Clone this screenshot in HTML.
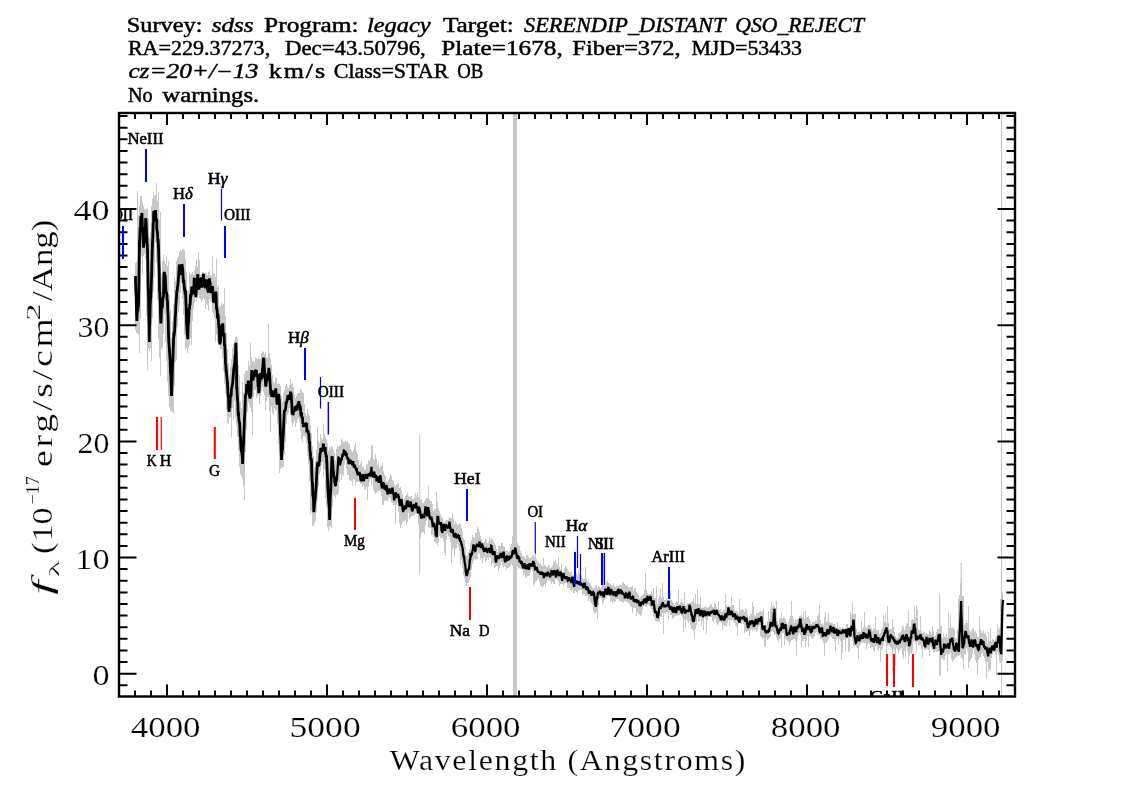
<!DOCTYPE html><html><head><meta charset="utf-8"><style>html,body{margin:0;padding:0;background:#fff;width:1134px;height:810px;overflow:hidden}svg{display:block;will-change:transform}</style></head><body><svg width="1134" height="810" viewBox="0 0 1134 810"><rect width="1134" height="810" fill="#fff"/><g font-family="Liberation Serif" fill="#000" stroke="#000" stroke-width="0.45"><text x="126.68" y="31.60" font-size="20" textLength="75.91" lengthAdjust="spacingAndGlyphs" >Survey:</text><text x="211.70" y="31.60" font-size="20" textLength="41.95" lengthAdjust="spacingAndGlyphs" font-style="italic">sdss</text><text x="264.10" y="31.60" font-size="20" textLength="94.42" lengthAdjust="spacingAndGlyphs" >Program:</text><text x="366.98" y="31.60" font-size="20" textLength="63.73" lengthAdjust="spacingAndGlyphs" font-style="italic">legacy</text><text x="442.90" y="31.60" font-size="20" textLength="70.97" lengthAdjust="spacingAndGlyphs" >Target:</text><text x="524.00" y="31.60" font-size="20" textLength="201.29" lengthAdjust="spacingAndGlyphs" font-style="italic">SERENDIP_DISTANT</text><text x="735.32" y="31.60" font-size="20" textLength="128.68" lengthAdjust="spacingAndGlyphs" font-style="italic">QSO_REJECT</text><text x="127.90" y="54.60" font-size="20" textLength="142.27" lengthAdjust="spacingAndGlyphs" >RA=229.37273,</text><text x="285.00" y="54.60" font-size="20" textLength="140.75" lengthAdjust="spacingAndGlyphs" >Dec=43.50796,</text><text x="441.20" y="54.60" font-size="20" textLength="121.52" lengthAdjust="spacingAndGlyphs" >Plate=1678,</text><text x="572.30" y="54.60" font-size="20" textLength="108.31" lengthAdjust="spacingAndGlyphs" >Fiber=372,</text><text x="691.40" y="54.60" font-size="20" textLength="110.62" lengthAdjust="spacingAndGlyphs" >MJD=53433</text><text x="128.40" y="78.40" font-size="20" textLength="129.94" lengthAdjust="spacingAndGlyphs" font-style="italic">cz=20+/&#8722;13</text><text transform="translate(268.70 78.40) scale(1.300 1)" x="-0.00" y="0" font-size="20" textLength="43.42" lengthAdjust="spacing" >km/s</text><text x="333.70" y="78.40" font-size="20" textLength="114.75" lengthAdjust="spacingAndGlyphs" >Class=STAR</text><text x="457.20" y="78.40" font-size="20" textLength="26.05" lengthAdjust="spacingAndGlyphs" >OB</text><text x="127.90" y="102.20" font-size="20" textLength="24.76" lengthAdjust="spacingAndGlyphs" >No</text><text x="162.30" y="102.20" font-size="20" textLength="96.94" lengthAdjust="spacingAndGlyphs" >warnings.</text></g><defs><clipPath id="c"><rect x="119.0" y="113.0" width="896.0" height="583.5"/></clipPath></defs><g clip-path="url(#c)"><rect x="513" y="113.0" width="4" height="583.5" fill="#c8c8c8"/><rect x="1001" y="113.0" width="1.1" height="583.5" fill="#c8c8c8"/><rect x="419.1" y="435" width="1.1" height="139" fill="#c8c8c8"/><rect x="960.6" y="563" width="1.2" height="95" fill="#c8c8c8"/><rect x="939" y="594" width="1.2" height="75" fill="#c8c8c8"/><path d="M135.5 263V330M136.5 262V333M137.5 191V333M138.5 215V335M139.5 206V353M140.5 196V319M141.5 196V256M142.5 203V274M143.5 206V256M144.5 209V254M145.5 210V259M146.5 208V316M147.5 209V370M148.5 218V348M149.5 238V351M150.5 232V348M151.5 206V361M152.5 199V318M153.5 192V292M154.5 196V277M155.5 195V243M156.5 183V263M157.5 201V300M158.5 192V339M159.5 220V358M160.5 212V376M161.5 273V349M162.5 261V347M163.5 255V334M164.5 261V314M165.5 264V342M166.5 256V361M167.5 266V382M168.5 261V396M169.5 295V407M170.5 310V411M171.5 337V411M172.5 321V412M173.5 304V414M174.5 277V386M175.5 281V362M176.5 261V360M177.5 258V327M178.5 256V312M179.5 252V305M180.5 250V293M181.5 251V283M182.5 249V299M183.5 249V315M184.5 250V335M185.5 259V349M186.5 272V348M187.5 291V353M188.5 290V348M189.5 272V345M190.5 274V338M191.5 274V346M192.5 272V321M193.5 275V309M194.5 270V302M195.5 266V298M196.5 259V301M197.5 267V298M198.5 252V295M199.5 260V298M200.5 275V299M201.5 274V302M202.5 272V300M203.5 272V298M204.5 273V299M205.5 273V309M206.5 274V304M207.5 275V305M208.5 272V311M209.5 270V299M210.5 275V301M211.5 276V302M212.5 256V312M213.5 273V314M214.5 274V318M215.5 277V342M216.5 259V335M217.5 287V341M218.5 285V343M219.5 305V345M220.5 307V349M221.5 303V350M222.5 305V358M223.5 304V371M224.5 288V384M225.5 316V394M226.5 333V409M227.5 349V423M228.5 363V424M229.5 375V418M230.5 367V417M231.5 359V437M232.5 348V408M233.5 344V419M234.5 342V401M235.5 337V417M236.5 337V425M237.5 338V437M238.5 365V451M239.5 375V467M240.5 402V474M241.5 408V476M242.5 382V479M243.5 393V486M244.5 374V500M245.5 371V452M246.5 371V430M247.5 370V412M248.5 361V402M249.5 366V405M250.5 343V408M251.5 357V412M252.5 362V435M253.5 361V397M254.5 362V390M255.5 357V390M256.5 358V398M257.5 359V396M258.5 357V395M259.5 359V404M260.5 359V396M261.5 353V391M262.5 351V387M263.5 352V391M264.5 354V395M265.5 352V410M266.5 357V401M267.5 358V397M268.5 324V398M269.5 353V411M270.5 358V432M271.5 365V406M272.5 375V413M273.5 382V415M274.5 383V408M275.5 377V411M276.5 378V410M277.5 384V424M278.5 383V444M279.5 384V473M280.5 386V469M281.5 396V468M282.5 402V467M283.5 393V467M284.5 390V454M285.5 386V442M286.5 384V424M287.5 387V415M288.5 388V413M289.5 385V408M290.5 379V415M291.5 384V422M292.5 383V427M293.5 387V423M294.5 395V421M295.5 398V427M296.5 396V423M297.5 393V420M298.5 393V418M299.5 393V422M300.5 390V431M301.5 389V439M302.5 392V442M303.5 393V436M304.5 404V436M305.5 413V437M306.5 416V443M307.5 409V456M308.5 414V464M309.5 416V481M310.5 425V514M311.5 433V511M312.5 446V526M313.5 456V526M314.5 467V523M315.5 461V521M316.5 450V512M317.5 427V500M318.5 441V486M319.5 443V474M320.5 434V471M321.5 438V465M322.5 440V462M323.5 425V477M324.5 434V469M325.5 437V498M326.5 439V507M327.5 443V527M328.5 451V531M329.5 447V527M330.5 449V526M331.5 446V528M332.5 447V507M333.5 450V495M334.5 453V496M335.5 460V498M336.5 449V495M337.5 446V495M338.5 447V493M339.5 446V482M340.5 445V474M341.5 439V480M342.5 441V474M343.5 442V476M344.5 442V465M345.5 441V460M346.5 442V468M347.5 441V475M348.5 443V475M349.5 444V480M350.5 449V481M351.5 451V481M352.5 452V486M353.5 450V479M354.5 446V480M355.5 443V485M356.5 451V482M357.5 454V482M358.5 460V482M359.5 465V482M360.5 463V484M361.5 461V484M362.5 467V487M363.5 467V486M364.5 470V489M365.5 469V490M366.5 465V487M367.5 464V500M368.5 460V487M369.5 461V482M370.5 458V479M371.5 445V485M372.5 446V478M373.5 459V489M374.5 460V492M375.5 454V494M376.5 459V493M377.5 465V492M378.5 462V491M379.5 468V491M380.5 466V492M381.5 466V496M382.5 463V505M383.5 471V505M384.5 475V501M385.5 476V500M386.5 481V501M387.5 482V501M388.5 480V498M389.5 478V497M390.5 474V499M391.5 476V502M392.5 480V503M393.5 481V505M394.5 484V505M395.5 486V524M396.5 484V505M397.5 484V503M398.5 483V512M399.5 488V523M400.5 487V528M401.5 490V525M402.5 494V523M403.5 500V521M404.5 498V521M405.5 496V520M406.5 495V525M407.5 493V522M408.5 496V513M409.5 497V519M410.5 496V517M411.5 496V517M412.5 499V516M413.5 499V515M414.5 497V516M415.5 493V514M416.5 495V513M417.5 492V513M418.5 497V524M419.5 498V538M420.5 500V538M421.5 499V533M422.5 503V532M423.5 503V532M424.5 501V534M425.5 499V525M426.5 498V521M427.5 498V518M428.5 486V527M429.5 500V528M430.5 501V528M431.5 501V535M432.5 504V535M433.5 511V537M434.5 509V542M435.5 509V542M436.5 492V543M437.5 502V546M438.5 508V543M439.5 511V536M440.5 514V538M441.5 517V538M442.5 518V538M443.5 522V541M444.5 522V553M445.5 521V556M446.5 520V540M447.5 520V534M448.5 519V536M449.5 517V537M450.5 518V542M451.5 518V563M452.5 513V550M453.5 519V548M454.5 524V557M455.5 521V549M456.5 523V548M457.5 525V544M458.5 525V547M459.5 523V551M460.5 524V564M461.5 528V560M462.5 531V568M463.5 538V575M464.5 540V579M465.5 547V582M466.5 556V586M467.5 554V583M468.5 552V583M469.5 549V580M470.5 543V577M471.5 540V570M472.5 535V564M473.5 537V561M474.5 538V559M475.5 533V560M476.5 533V559M477.5 527V559M478.5 529V553M479.5 532V554M480.5 536V560M481.5 539V558M482.5 542V563M483.5 545V559M484.5 542V557M485.5 539V562M486.5 540V560M487.5 543V558M488.5 542V560M489.5 537V557M490.5 540V558M491.5 538V566M492.5 539V563M493.5 541V564M494.5 543V568M495.5 545V567M496.5 549V566M497.5 552V566M498.5 546V571M499.5 546V568M500.5 546V565M501.5 543V562M502.5 543V565M503.5 546V567M504.5 547V566M505.5 551V567M506.5 550V570M507.5 551V568M508.5 552V568M509.5 551V567M510.5 547V566M511.5 544V564M512.5 536V566M513.5 544V564M514.5 545V559M515.5 544V559M516.5 544V562M517.5 543V567M518.5 545V569M519.5 546V568M520.5 551V569M521.5 553V569M522.5 556V570M523.5 556V575M524.5 557V573M525.5 559V578M526.5 555V577M527.5 555V576M528.5 557V576M529.5 558V575M530.5 558V572M531.5 557V569M532.5 556V571M533.5 554V586M534.5 557V584M535.5 553V582M536.5 559V581M537.5 561V580M538.5 562V579M539.5 564V582M540.5 562V586M541.5 565V586M542.5 566V588M543.5 558V586M544.5 565V584M545.5 566V587M546.5 567V583M547.5 567V580M548.5 565V580M549.5 566V580M550.5 568V582M551.5 567V584M552.5 565V582M553.5 561V584M554.5 562V584M555.5 560V579M556.5 563V579M557.5 565V580M558.5 557V582M559.5 567V586M560.5 569V584M561.5 564V584M562.5 572V584M563.5 573V586M564.5 568V584M565.5 566V583M566.5 567V583M567.5 569V588M568.5 571V588M569.5 572V588M570.5 572V590M571.5 571V592M572.5 575V590M573.5 575V593M574.5 574V593M575.5 573V591M576.5 573V592M577.5 575V593M578.5 571V591M579.5 574V590M580.5 577V590M581.5 576V590M582.5 578V595M583.5 579V594M584.5 579V594M585.5 567V596M586.5 579V596M587.5 581V596M588.5 581V601M589.5 583V599M590.5 583V602M591.5 586V603M592.5 588V605M593.5 588V611M594.5 588V614M595.5 585V613M596.5 586V612M597.5 588V619M598.5 586V606M599.5 587V599M600.5 588V598M601.5 587V600M602.5 583V604M603.5 585V602M604.5 586V600M605.5 585V598M606.5 582V599M607.5 581V596M608.5 583V596M609.5 583V597M610.5 584V602M611.5 585V601M612.5 586V603M613.5 583V601M614.5 586V602M615.5 587V601M616.5 585V599M617.5 586V599M618.5 586V599M619.5 585V601M620.5 585V601M621.5 585V602M622.5 583V602M623.5 582V603M624.5 584V601M625.5 585V602M626.5 586V601M627.5 585V603M628.5 588V603M629.5 587V604M630.5 587V606M631.5 587V607M632.5 586V613M633.5 591V608M634.5 588V608M635.5 588V608M636.5 592V616M637.5 593V612M638.5 595V614M639.5 598V614M640.5 597V616M641.5 596V615M642.5 595V610M643.5 594V606M644.5 590V606M645.5 573V606M646.5 590V607M647.5 593V605M648.5 594V605M649.5 594V606M650.5 594V607M651.5 591V609M652.5 594V612M653.5 588V616M654.5 598V618M655.5 598V621M656.5 586V621M657.5 604V622M658.5 599V622M659.5 596V621M660.5 589V617M661.5 598V617M662.5 583V613M663.5 597V634M664.5 600V613M665.5 600V614M666.5 598V612M667.5 600V612M668.5 600V619M669.5 600V612M670.5 591V615M671.5 600V615M672.5 602V619M673.5 603V618M674.5 605V617M675.5 603V616M676.5 601V615M677.5 602V616M678.5 589V615M679.5 604V615M680.5 602V614M681.5 599V616M682.5 602V617M683.5 604V632M684.5 592V620M685.5 606V628M686.5 605V619M687.5 603V621M688.5 603V623M689.5 603V621M690.5 603V625M691.5 602V629M692.5 601V629M693.5 598V631M694.5 603V638M695.5 594V629M696.5 604V625M697.5 589V617M698.5 604V622M699.5 604V621M700.5 597V618M701.5 608V626M702.5 607V621M703.5 608V630M704.5 607V618M705.5 607V619M706.5 607V634M707.5 608V620M708.5 607V617M709.5 606V617M710.5 604V617M711.5 604V617M712.5 607V621M713.5 607V622M714.5 602V619M715.5 604V619M716.5 607V623M717.5 609V625M718.5 601V624M719.5 610V622M720.5 609V622M721.5 612V623M722.5 611V630M723.5 610V625M724.5 610V626M725.5 594V625M726.5 605V627M727.5 607V623M728.5 605V620M729.5 607V626M730.5 606V620M731.5 597V621M732.5 605V620M733.5 605V621M734.5 609V623M735.5 611V625M736.5 611V627M737.5 611V636M738.5 613V624M739.5 599V623M740.5 610V624M741.5 610V624M742.5 609V622M743.5 610V624M744.5 612V633M745.5 608V631M746.5 609V632M747.5 614V631M748.5 618V631M749.5 616V636M750.5 614V630M751.5 614V629M752.5 602V631M753.5 606V629M754.5 615V630M755.5 616V630M756.5 613V632M757.5 613V631M758.5 613V627M759.5 612V626M760.5 611V636M761.5 612V637M762.5 611V639M763.5 609V638M764.5 625V647M765.5 625V646M766.5 626V638M767.5 621V640M768.5 611V639M769.5 619V638M770.5 609V636M771.5 602V632M772.5 607V631M773.5 605V632M774.5 606V635M775.5 608V634M776.5 601V638M777.5 621V640M778.5 624V642M779.5 619V639M780.5 618V638M781.5 612V648M782.5 618V633M783.5 617V633M784.5 618V645M785.5 619V638M786.5 622V640M787.5 625V641M788.5 622V641M789.5 619V645M790.5 616V642M791.5 601V640M792.5 616V640M793.5 620V639M794.5 623V639M795.5 620V641M796.5 620V656M797.5 619V639M798.5 618V635M799.5 616V633M800.5 616V635M801.5 615V647M802.5 617V641M803.5 612V641M804.5 619V639M805.5 611V647M806.5 618V641M807.5 617V636M808.5 616V647M809.5 619V636M810.5 621V637M811.5 624V638M812.5 622V639M813.5 622V638M814.5 622V636M815.5 620V633M816.5 621V632M817.5 616V634M818.5 614V635M819.5 605V635M820.5 620V639M821.5 624V639M822.5 623V640M823.5 625V643M824.5 617V656M825.5 612V643M826.5 622V643M827.5 621V641M828.5 613V639M829.5 622V637M830.5 623V635M831.5 623V637M832.5 623V639M833.5 624V639M834.5 624V641M835.5 626V651M836.5 628V639M837.5 622V638M838.5 629V645M839.5 627V639M840.5 627V641M841.5 629V660M842.5 627V652M843.5 628V640M844.5 629V639M845.5 629V651M846.5 624V639M847.5 624V637M848.5 627V652M849.5 627V651M850.5 612V638M851.5 615V637M852.5 602V641M853.5 614V646M854.5 614V646M855.5 614V645M856.5 629V647M857.5 632V648M858.5 632V659M859.5 632V646M860.5 632V644M861.5 621V643M862.5 629V642M863.5 627V643M864.5 612V643M865.5 627V643M866.5 628V649M867.5 626V645M868.5 625V643M869.5 625V644M870.5 626V648M871.5 628V647M872.5 631V647M873.5 629V650M874.5 628V652M875.5 617V646M876.5 630V646M877.5 630V649M878.5 630V651M879.5 634V648M880.5 633V662M881.5 629V650M882.5 627V649M883.5 615V645M884.5 622V641M885.5 613V643M886.5 623V658M887.5 606V646M888.5 623V645M889.5 629V646M890.5 629V647M891.5 629V648M892.5 619V671M893.5 627V649M894.5 632V651M895.5 636V666M896.5 638V648M897.5 638V650M898.5 634V653M899.5 633V650M900.5 632V649M901.5 630V648M902.5 626V655M903.5 627V659M904.5 630V651M905.5 627V658M906.5 623V647M907.5 624V651M908.5 610V664M909.5 627V656M910.5 626V653M911.5 620V654M912.5 619V651M913.5 620V642M914.5 606V641M915.5 617V644M916.5 605V652M917.5 609V642M918.5 629V646M919.5 630V645M920.5 616V645M921.5 631V649M922.5 633V658M923.5 632V647M924.5 632V650M925.5 635V650M926.5 633V649M927.5 634V649M928.5 634V650M929.5 630V656M930.5 632V647M931.5 633V649M932.5 627V650M933.5 631V653M934.5 636V652M935.5 635V651M936.5 632V652M937.5 629V652M938.5 629V651M939.5 625V676M940.5 626V675M941.5 626V659M942.5 638V658M943.5 634V660M944.5 637V660M945.5 637V656M946.5 634V654M947.5 638V671M948.5 612V654M949.5 628V654M950.5 615V653M951.5 628V659M952.5 627V662M953.5 628V660M954.5 630V659M955.5 638V657M956.5 638V657M957.5 630V656M958.5 599V656M959.5 595V655M960.5 583V654M961.5 578V658M962.5 596V659M963.5 596V669M964.5 625V654M965.5 623V655M966.5 620V648M967.5 623V651M968.5 606V668M969.5 630V662M970.5 632V660M971.5 631V658M972.5 629V654M973.5 628V649M974.5 632V654M975.5 631V660M976.5 633V663M977.5 637V675M978.5 637V660M979.5 616V658M980.5 629V657M981.5 631V654M982.5 633V653M983.5 630V656M984.5 634V658M985.5 633V662M986.5 636V679M987.5 643V662M988.5 632V672M989.5 641V669M990.5 628V671M991.5 642V658M992.5 639V655M993.5 640V653M994.5 641V652M995.5 638V654M996.5 636V676M997.5 624V652M998.5 630V655M999.5 628V661M1000.5 599V663M1001.5 595V672M1002.5 592V661" stroke="#c8c8c8" stroke-width="1" fill="none" shape-rendering="crispEdges"/><path d="M135.50 276.0 135.50 280.8 135.83 290.7 136.17 297.6 136.50 311.8 136.83 320.9 137.17 313.2 137.50 310.6 137.83 310.4 138.17 306.3 138.50 300.0 138.50 306.5 138.83 287.7 139.17 264.6 139.50 240.0 139.50 249.0 139.83 236.6 140.17 227.5 140.50 228.2 140.83 216.4 141.17 217.7 141.50 217.1 141.83 214.5 141.90 213.0 142.17 220.2 142.50 231.8 142.83 227.0 143.17 238.9 143.50 245.0 143.50 247.7 143.83 240.3 144.17 236.2 144.50 243.0 144.83 242.2 145.17 229.1 145.50 226.0 145.60 219.0 145.83 218.4 146.17 223.9 146.50 232.1 146.83 236.5 147.17 244.5 147.50 250.0 147.50 248.8 147.83 269.3 148.17 288.5 148.50 295.1 148.83 315.5 149.17 327.6 149.30 342.0 149.50 326.5 149.83 323.1 150.17 307.3 150.50 299.0 150.83 297.8 151.17 288.3 151.50 278.3 151.83 264.2 152.17 252.1 152.50 241.9 152.83 236.8 153.17 223.6 153.50 221.4 153.70 211.0 153.83 211.4 154.17 215.3 154.50 212.8 154.83 212.1 155.17 214.5 155.50 210.1 155.83 217.3 156.17 219.6 156.50 221.0 156.70 219.0 156.83 229.7 157.17 230.8 157.50 233.5 157.83 240.5 158.17 240.5 158.50 250.0 158.50 245.4 158.83 259.7 159.17 269.4 159.50 288.0 159.50 291.4 159.83 292.5 160.17 301.5 160.50 315.1 160.83 323.4 161.17 319.7 161.50 308.1 161.83 306.8 162.17 308.4 162.50 302.9 162.83 298.5 163.17 298.0 163.50 295.9 163.83 277.7 164.17 273.1 164.30 272.0 164.50 274.1 164.83 274.9 165.17 275.8 165.50 282.9 165.83 289.6 166.17 292.6 166.50 292.8 166.83 294.0 167.17 300.4 167.50 301.3 167.83 312.7 168.17 317.5 168.50 334.4 168.83 342.1 169.17 346.3 169.50 351.4 169.83 356.5 170.17 360.9 170.50 372.3 170.83 376.1 171.17 385.8 171.50 396.0 171.50 394.6 171.83 389.8 172.17 376.6 172.50 366.2 172.83 360.8 173.17 350.0 173.50 341.1 173.83 334.4 174.17 334.6 174.50 332.6 174.83 327.3 175.17 317.9 175.50 314.5 175.83 306.8 176.17 300.1 176.50 297.5 176.83 290.4 177.17 291.7 177.50 286.7 177.83 285.8 178.17 281.4 178.50 277.3 178.83 272.6 179.17 266.6 179.50 264.5 179.83 268.2 180.17 273.7 180.50 273.7 180.83 274.9 181.17 269.0 181.50 270.0 181.83 264.4 182.17 265.2 182.50 268.3 182.83 270.5 183.17 277.4 183.50 283.1 183.83 279.8 184.17 286.7 184.50 289.3 184.83 289.2 185.17 294.3 185.50 290.2 185.83 299.5 186.17 307.5 186.50 321.6 186.83 326.9 187.17 333.3 187.50 336.2 187.80 339.0 187.83 338.8 188.17 325.0 188.50 322.0 188.83 316.1 189.17 308.4 189.50 309.4 189.83 304.2 190.17 305.3 190.50 296.3 190.83 296.5 191.17 295.6 191.50 291.1 191.83 286.7 192.17 289.3 192.50 291.8 192.83 292.5 193.17 294.3 193.50 286.2 193.83 289.3 194.17 278.7 194.50 278.4 194.83 281.1 195.17 289.8 195.50 290.8 195.83 297.1 196.17 292.0 196.50 287.0 196.83 279.9 197.17 281.7 197.40 283.0 197.50 276.5 197.83 274.3 198.17 285.4 198.50 279.6 198.83 289.6 199.17 287.3 199.50 284.6 199.83 279.5 200.17 279.1 200.50 283.2 200.83 280.3 201.17 277.5 201.50 283.2 201.83 287.7 202.17 284.5 202.50 277.5 202.83 281.1 203.17 277.8 203.50 273.8 203.83 282.8 204.17 285.9 204.50 279.7 204.83 286.4 205.17 287.0 205.50 286.9 205.83 285.6 206.17 285.0 206.50 279.3 206.83 285.6 207.17 282.8 207.50 290.1 207.83 289.1 208.17 292.7 208.50 287.7 208.83 291.4 209.17 283.1 209.50 278.3 209.83 284.9 210.17 281.6 210.50 292.8 210.83 292.3 211.17 291.0 211.50 288.3 211.83 291.1 212.17 290.4 212.50 286.0 212.83 291.0 213.17 295.4 213.50 301.4 213.83 301.5 214.17 299.9 214.50 298.5 214.83 301.4 215.17 296.5 215.50 293.2 215.83 291.7 216.17 297.1 216.50 308.2 216.83 308.3 217.17 311.1 217.50 318.4 217.83 314.0 218.17 315.7 218.50 322.1 218.83 327.0 219.17 329.5 219.50 339.7 219.83 344.3 220.17 340.8 220.50 340.9 220.83 335.6 221.17 331.3 221.50 327.0 221.83 324.6 222.17 324.9 222.50 323.9 222.83 324.5 223.17 331.5 223.50 336.3 223.83 334.4 224.17 334.4 224.50 346.1 224.83 344.7 225.17 352.9 225.50 363.5 225.83 365.4 226.17 372.5 226.30 369.0 226.50 373.7 226.83 377.2 227.17 380.4 227.50 382.7 227.83 390.3 228.17 396.3 228.50 397.5 228.83 409.3 229.17 411.8 229.30 408.0 229.50 407.0 229.83 408.1 230.17 401.2 230.50 394.8 230.83 396.1 231.17 395.6 231.50 388.8 231.83 387.9 232.17 385.1 232.50 384.5 232.83 380.9 233.17 376.7 233.50 372.3 233.70 370.0 233.83 368.8 234.17 366.5 234.50 364.9 234.83 361.3 235.17 355.5 235.50 355.3 235.83 342.9 236.17 350.8 236.50 366.9 236.70 389.0 236.83 387.1 237.17 394.2 237.50 399.1 237.83 403.6 238.17 413.9 238.50 413.8 238.83 418.5 239.17 422.2 239.50 421.8 239.83 426.6 240.17 436.8 240.50 435.9 240.83 445.3 241.17 449.8 241.50 451.6 241.83 452.0 242.17 455.7 242.50 458.9 242.60 464.0 242.83 459.1 243.17 448.8 243.50 444.5 243.83 435.0 244.17 427.7 244.40 421.0 244.50 418.2 244.83 412.8 245.17 403.8 245.50 395.5 245.83 394.1 246.17 395.0 246.50 389.1 246.70 384.0 246.83 386.9 247.17 391.4 247.50 389.7 247.83 386.2 248.17 381.8 248.50 381.8 248.83 385.8 249.17 390.3 249.50 396.0 249.83 397.3 250.17 397.3 250.50 393.0 250.83 396.6 251.17 387.8 251.50 374.4 251.83 370.1 251.90 377.0 252.17 373.7 252.50 379.6 252.83 379.4 253.17 380.2 253.50 375.1 253.83 375.7 254.17 377.5 254.50 371.4 254.83 372.3 255.17 372.0 255.50 370.0 255.83 373.9 256.17 370.2 256.30 370.0 256.50 372.6 256.83 373.7 257.17 376.3 257.50 374.1 257.83 381.6 258.17 387.1 258.50 386.0 258.50 385.3 258.83 393.1 259.17 389.5 259.50 383.0 259.83 380.9 260.17 380.8 260.50 373.2 260.83 373.8 261.17 374.3 261.50 378.4 261.83 379.0 262.17 375.4 262.50 368.6 262.83 367.9 263.17 361.8 263.50 357.7 263.70 365.0 263.83 357.8 264.17 364.4 264.50 370.8 264.83 377.3 265.17 376.5 265.50 383.6 265.83 386.7 266.17 383.2 266.50 380.4 266.83 379.5 267.17 379.4 267.50 373.7 267.83 377.8 268.17 377.4 268.50 374.5 268.83 367.9 269.17 371.7 269.50 373.2 269.83 379.3 270.17 384.2 270.50 388.4 270.83 393.4 271.17 393.4 271.50 394.1 271.83 396.9 272.17 394.9 272.50 390.3 272.83 395.2 273.17 395.8 273.50 395.7 273.83 397.1 274.17 394.9 274.50 391.1 274.83 393.7 275.17 391.8 275.50 392.0 275.60 396.0 275.83 388.4 276.17 396.4 276.50 394.8 276.83 400.8 277.17 404.6 277.50 398.4 277.83 396.6 278.17 394.1 278.50 395.2 278.83 395.3 279.17 399.8 279.30 399.0 279.50 403.8 279.83 414.7 280.17 423.4 280.50 434.9 280.83 438.0 281.17 451.5 281.50 460.0 281.50 458.9 281.83 454.3 282.17 448.8 282.50 448.8 282.83 440.7 283.17 435.4 283.50 428.8 283.83 420.7 284.17 414.3 284.40 411.0 284.50 410.2 284.83 410.5 285.17 411.1 285.50 408.7 285.83 406.9 286.17 401.6 286.50 402.9 286.83 402.0 287.17 400.1 287.40 399.0 287.50 399.1 287.83 395.5 288.17 395.8 288.50 396.1 288.83 398.7 289.17 399.4 289.50 398.1 289.83 396.2 290.17 396.6 290.50 391.7 290.83 393.1 291.17 393.8 291.50 399.8 291.83 404.0 292.17 412.5 292.50 413.5 292.83 414.6 293.17 414.2 293.30 412.0 293.50 410.0 293.83 409.4 294.17 411.0 294.50 410.8 294.83 411.2 295.17 406.3 295.50 410.0 295.83 410.5 296.17 407.4 296.30 408.0 296.50 407.5 296.83 405.2 297.17 410.3 297.50 406.5 297.83 406.3 298.17 403.0 298.50 403.7 298.83 401.2 299.17 405.0 299.50 404.7 299.83 405.6 300.17 406.7 300.50 408.3 300.83 414.7 301.17 416.3 301.50 412.4 301.83 418.1 302.17 417.4 302.20 417.0 302.50 417.7 302.83 424.1 303.17 422.9 303.50 427.1 303.83 425.2 304.17 424.8 304.50 425.9 304.83 424.8 305.17 426.8 305.50 423.0 305.83 423.4 306.17 424.4 306.50 426.7 306.70 423.0 306.83 432.3 307.17 431.9 307.50 429.8 307.83 430.5 308.17 431.4 308.50 434.6 308.83 433.2 309.17 440.4 309.50 443.7 309.60 441.0 309.83 448.0 310.17 452.7 310.40 452.0 310.50 456.4 310.83 460.5 311.17 457.8 311.50 461.5 311.83 474.4 312.17 480.9 312.50 484.1 312.83 495.2 313.17 495.3 313.50 500.8 313.83 512.1 314.17 508.2 314.50 503.9 314.83 501.3 315.17 497.9 315.50 494.0 315.83 490.7 316.17 486.6 316.50 478.7 316.83 472.3 317.17 467.2 317.50 463.5 317.83 462.6 318.17 466.3 318.50 465.5 318.83 465.9 319.17 461.2 319.50 462.2 319.83 456.1 320.17 453.5 320.50 452.0 320.70 450.0 320.83 448.1 321.17 448.8 321.50 449.1 321.83 451.8 322.17 450.3 322.50 448.9 322.83 450.4 323.17 444.7 323.50 443.8 323.83 447.2 324.17 451.2 324.50 448.6 324.83 449.4 325.17 449.3 325.20 447.0 325.50 453.0 325.83 454.1 326.17 457.2 326.50 455.2 326.70 463.0 326.83 461.4 327.17 470.8 327.50 478.9 327.83 487.8 328.17 492.4 328.50 498.6 328.83 503.2 329.17 506.1 329.50 515.5 329.60 520.0 329.83 512.8 330.17 499.5 330.50 493.7 330.83 488.4 331.17 476.1 331.50 467.9 331.83 459.4 331.90 457.0 332.17 456.3 332.50 462.0 332.83 465.2 333.17 471.0 333.50 471.4 333.83 475.1 334.17 477.6 334.50 476.6 334.83 483.2 335.17 483.7 335.50 485.3 335.83 486.0" stroke="#000" stroke-width="2.8" fill="none" stroke-linejoin="miter" stroke-miterlimit="2"/><path d="M335.17 483.7 335.50 485.3 335.83 486.0 336.17 481.1 336.50 480.8 336.83 478.9 337.17 474.6 337.50 471.0 337.83 465.7 338.17 461.3 338.50 457.7 338.83 457.9 339.17 458.2 339.50 460.4 339.83 464.0 340.17 464.2 340.50 462.7 340.83 460.0 341.17 461.1 341.50 459.0 341.83 458.8 342.17 456.4 342.50 453.9 342.83 456.5 343.17 455.0 343.50 454.4 343.83 450.5 344.17 450.0 344.50 452.6 344.83 452.5 345.17 453.9 345.50 451.0 345.83 455.8 346.17 455.0 346.50 452.9 346.83 456.9 347.17 457.2 347.50 458.3 347.83 459.6 348.17 457.5 348.50 462.4 348.83 464.1 349.17 463.3 349.50 462.5 349.83 459.4 350.17 461.4 350.50 460.0 350.83 461.3 351.17 461.0 351.50 463.9 351.83 462.2 352.17 464.4 352.50 464.4 352.83 462.0 353.17 461.2 353.50 464.7 353.83 467.4 354.17 466.7 354.50 464.4 354.83 466.4 355.17 465.9 355.50 468.2 355.83 469.2 356.17 468.9 356.50 468.8 356.83 468.9 357.17 473.7 357.50 471.0 357.83 475.3 358.17 473.8 358.50 475.0 358.83 473.9 359.17 474.0 359.50 472.1 359.83 473.6 360.17 476.2 360.50 479.0 360.83 480.8 361.17 480.2 361.50 481.4 361.83 478.9 362.17 475.7 362.50 475.3 362.83 474.0 363.17 479.3 363.50 480.1 363.83 481.2 364.17 478.4 364.50 477.4 364.83 477.6 365.17 478.3 365.50 474.8 365.83 474.1 366.17 477.3 366.50 476.3 366.83 474.1 367.17 478.9 367.50 474.0 367.83 475.6 368.17 473.7 368.50 474.4 368.83 474.5 369.17 473.2 369.50 475.6 369.83 476.2 370.17 474.7 370.50 471.9 370.83 472.2 371.17 471.1 371.50 466.8 371.83 472.4 372.17 475.1 372.50 476.7 372.83 476.4 373.17 476.5 373.50 477.5 373.83 475.6 374.17 471.6 374.50 473.3 374.83 476.8 375.17 476.4 375.50 477.8 375.83 475.9 376.17 476.0 376.50 480.2 376.83 480.1 377.17 476.4 377.50 478.1 377.83 476.4 378.17 477.8 378.50 481.9 378.83 482.6 379.17 479.5 379.50 477.3 379.83 481.1 380.17 475.4 380.50 476.3 380.83 479.8 381.17 484.1 381.50 484.0 381.83 488.4 382.17 487.1 382.50 484.2 382.83 482.9 383.17 482.9 383.50 484.0 383.83 483.1 384.17 485.2 384.50 489.7 384.83 487.9 385.17 489.8 385.50 489.0 385.83 489.6 386.17 489.4 386.50 485.0 386.83 486.6 387.17 489.8 387.50 494.5 387.83 493.2 388.17 492.4 388.50 492.0 388.83 492.4 389.17 492.5 389.50 488.4 389.83 492.2 390.17 489.8 390.50 492.3 390.83 493.8 391.17 490.7 391.50 491.0 391.83 492.2 392.17 489.0 392.50 487.7 392.83 491.5 393.17 493.3 393.50 494.2 393.83 497.0 394.17 500.3 394.50 496.8 394.83 497.9 395.17 494.2 395.50 494.0 395.83 492.2 396.17 497.9 396.50 496.1 396.83 498.1 397.17 496.1 397.50 496.6 397.83 496.9 398.17 494.0 398.50 496.7 398.83 496.0 399.17 499.7 399.50 503.2 399.83 505.8 400.17 504.7 400.50 504.9 400.83 501.0 401.17 501.6 401.50 499.0 401.83 502.9 402.17 504.1 402.50 507.6 402.83 510.4 403.17 512.1 403.50 508.5 403.83 510.0 404.17 508.7 404.50 507.3 404.83 505.5 405.17 509.2 405.50 507.7 405.83 509.0 406.17 507.7 406.50 505.3 406.83 501.5 407.17 501.8 407.50 500.4 407.83 501.9 408.17 507.0 408.50 504.3 408.83 507.2 409.17 506.3 409.50 504.2 409.83 503.0 410.17 504.4 410.50 501.5 410.83 502.7 411.17 505.0 411.50 508.1 411.83 509.3 412.17 511.3 412.50 510.5 412.83 509.6 413.17 505.5 413.50 506.9 413.83 504.0 414.17 507.6 414.50 505.8 414.83 508.2 415.17 507.4 415.50 506.6 415.83 506.5 416.17 502.5 416.50 506.8 416.83 506.4 417.17 507.4 417.50 509.4 417.83 512.7 418.17 513.1 418.50 510.7 418.83 508.5 419.17 507.7 419.50 508.1 419.83 511.0 420.17 510.6 420.50 514.9 420.83 515.7 421.17 518.6 421.50 515.3 421.83 515.2 422.17 515.8 422.50 516.8 422.83 515.5 423.17 517.0 423.50 517.9 423.83 516.2 424.17 518.1 424.50 513.6 424.83 513.4 425.17 510.1 425.50 506.3 425.83 509.5 426.17 511.1 426.50 511.6 426.83 513.8 427.17 516.3 427.50 511.9 427.83 509.2 428.17 507.1 428.50 509.2 428.83 511.6 429.17 513.1 429.50 517.2 429.83 517.6 430.17 519.1 430.50 518.5 430.83 519.7 431.17 516.8 431.50 517.4 431.83 520.1 432.17 521.3 432.50 523.7 432.83 527.2 433.17 523.7 433.50 523.6 433.83 524.9 434.17 523.3 434.50 525.9 434.83 526.6 435.17 529.6 435.50 529.9 435.83 535.6 436.17 534.4 436.50 536.5 436.70 537.0 436.83 534.6 437.17 523.3 437.50 517.0 437.83 517.1 438.17 517.1 438.50 522.7 438.83 522.5 439.17 524.4 439.50 523.7 439.83 523.0 440.17 523.9 440.50 522.8 440.83 522.2 441.17 524.6 441.50 531.1 441.83 529.1 442.17 533.0 442.50 530.4 442.83 530.4 443.17 526.4 443.50 524.0 443.83 526.5 444.17 528.2 444.50 530.4 444.83 529.2 445.17 530.8 445.50 528.9 445.83 525.3 446.17 524.4 446.50 525.5 446.83 525.8 447.17 525.8 447.50 525.3 447.83 526.3 448.17 528.7 448.50 525.8 448.83 528.0 449.17 525.5 449.50 521.5 449.83 524.8 450.17 528.9 450.50 527.3 450.83 532.2 451.17 531.2 451.50 529.9 451.83 533.0 452.17 531.4 452.50 529.0 452.83 530.7 453.17 533.9 453.50 533.0 453.83 536.9 454.17 536.4 454.50 536.6 454.83 534.4 455.17 535.1 455.50 533.7 455.83 533.3 456.17 535.9 456.50 536.4 456.83 537.1 457.17 538.1 457.50 537.2 457.83 535.7 458.17 535.4 458.50 536.0 458.83 536.4 459.17 536.3 459.50 540.2 459.83 537.8 460.17 540.5 460.50 541.8 460.83 540.7 461.17 543.1 461.50 544.6 461.83 544.6 462.17 546.9 462.50 547.8 462.83 549.8 463.17 554.4 463.50 555.4 463.83 556.8 464.17 556.8 464.50 561.2 464.83 563.3 465.17 564.6 465.50 567.6 465.83 572.1 466.17 573.2 466.50 575.0 466.83 576.0 467.17 573.2 467.50 572.9 467.83 571.2 468.17 570.0 468.50 568.8 468.83 569.7 469.17 567.8 469.50 565.3 469.83 559.6 470.17 560.3 470.50 553.0 470.83 557.0 471.17 555.6 471.50 553.0 471.83 555.1 472.17 552.7 472.50 550.3 472.83 550.6 473.17 546.7 473.50 544.3 473.83 547.9 474.17 547.5 474.50 548.9 474.83 548.9 475.17 550.8 475.50 550.6 475.83 546.5 476.17 545.9 476.50 545.9 476.83 544.9 477.17 545.1 477.50 544.7 477.83 546.2 478.17 545.8 478.50 546.8 478.83 544.3 479.17 544.1 479.50 541.4 479.83 544.3 480.17 543.9 480.50 546.4 480.83 547.9 481.17 546.6 481.50 547.5 481.83 547.0 482.17 543.4 482.50 545.0 482.83 546.0 483.17 549.8 483.50 549.0 483.83 551.0 484.17 551.7 484.50 550.5 484.83 547.9 485.17 550.2 485.50 549.0 485.83 547.7 486.17 549.8 486.50 550.1 486.83 551.5 487.17 551.7 487.50 550.7 487.83 550.7 488.17 549.9 488.50 548.3 488.83 548.9 489.17 549.6 489.50 548.9 489.83 552.9 490.17 552.1 490.50 549.6 490.83 548.7 491.17 545.8 491.50 546.0 491.83 550.2 492.17 548.9 492.50 554.7 492.83 553.9 493.17 555.0 493.50 554.0 493.83 552.5 494.17 552.0 494.50 551.1 494.83 553.8 495.17 555.2 495.50 558.8 495.83 561.5 496.17 562.4 496.50 558.5 496.83 557.7 497.17 557.7 497.50 555.6 497.83 555.9 498.17 556.9 498.50 559.0 498.83 556.6 499.17 558.7 499.50 557.0 499.83 556.9 500.17 556.0 500.50 554.1 500.83 554.2 501.17 554.1 501.50 556.3 501.83 557.1 502.17 557.8 502.50 557.1 502.83 555.4 503.17 554.1 503.50 551.7 503.83 553.3 504.17 557.2 504.50 558.3 504.83 560.3 505.17 560.1 505.50 562.2 505.83 559.0 506.17 557.2 506.50 556.9 506.83 556.5 507.17 557.1 507.50 560.3 507.83 559.0 508.17 560.7 508.50 558.1 508.83 560.0 509.17 555.9 509.50 559.1 509.83 558.0 510.17 558.9 510.50 556.8 510.83 556.9 511.17 557.2 511.50 556.9 511.83 555.4 512.17 554.6 512.50 550.8 512.83 552.8 513.17 549.9 513.50 552.8 513.83 554.2 514.17 552.1 514.50 551.8 514.83 552.0 515.17 547.6 515.50 548.7 515.83 550.6 516.17 552.4 516.50 554.2 516.83 556.5 517.17 557.9 517.50 558.0 517.83 555.1 518.17 557.5 518.50 556.3 518.83 557.9 519.17 556.8 519.50 562.1 519.83 560.7 520.17 562.0 520.50 560.3 520.83 563.0 521.17 563.2 521.50 561.3 521.83 562.7 522.17 563.7 522.50 566.4 522.83 565.8 523.17 568.3 523.50 567.2 523.83 567.3 524.17 565.0 524.50 563.1 524.83 565.5 525.17 565.8 525.50 566.8 525.83 569.2 526.17 567.0 526.50 569.4 526.83 567.1 527.17 566.9 527.50 564.2 527.83 568.0 528.17 564.8 528.50 566.6 528.83 568.7 529.17 568.6 529.50 564.4 529.83 563.3 530.17 565.3 530.50 564.5 530.83 563.7 531.17 564.7 531.50 565.3 531.83 566.4 532.17 564.9 532.50 565.1 532.83 563.2 533.17 561.0 533.50 562.6 533.83 562.3 534.17 564.0 534.50 566.2 534.83 566.9 535.17 569.2 535.50 569.0 535.83 568.3 536.17 568.7 536.50 569.8 536.83 566.8 537.17 569.5 537.50 570.6 537.83 571.8 538.17 572.5 538.50 570.9 538.83 573.1 539.17 571.6 539.50 572.8 539.83 571.4 540.17 573.1 540.50 574.7 540.83 573.7 541.17 574.7 541.50 574.2 541.83 572.7 542.17 572.2 542.50 573.0 542.83 573.2 543.17 574.9 543.50 573.5 543.83 578.2 544.17 575.6 544.50 574.9 544.83 573.5 545.17 575.5 545.50 572.7 545.83 575.2 546.17 574.9 546.50 576.1 546.83 575.6 547.17 574.3 547.50 573.1 547.83 572.7 548.17 573.6 548.50 573.1 548.83 574.1 549.17 573.0 549.50 575.0 549.83 576.3 550.17 577.2 550.50 573.9 550.83 574.3 551.17 572.5 551.50 570.2 551.83 572.2 552.17 571.5 552.50 571.2 552.83 575.3 553.17 574.7 553.50 573.1 553.83 573.8 554.17 572.3 554.50 570.2 554.83 571.8 555.17 572.2 555.50 573.7 555.83 576.4 556.17 576.3 556.50 572.6 556.83 573.3 557.17 570.8 557.50 570.6 557.83 571.1 558.17 572.7 558.50 574.7 558.83 575.0 559.17 574.1 559.50 575.9 559.83 573.9 560.17 573.0 560.50 571.6 560.83 573.2 561.17 576.3 561.50 576.0 561.83 578.0 562.17 580.8 562.50 576.4 562.83 575.8 563.17 575.8 563.50 572.8 563.83 576.5 564.17 576.3 564.50 577.4 564.83 577.7 565.17 576.8 565.50 578.1 565.83 576.9 566.17 578.7 566.50 576.3 566.83 578.1 567.17 578.3 567.50 579.7 567.83 580.7 568.17 580.5 568.50 580.3 568.83 578.4 569.17 577.3 569.50 578.7 569.83 580.5 570.17 580.2 570.50 580.7 570.83 581.3 571.17 581.0 571.50 583.1 571.83 579.2 572.17 578.0 572.50 576.9 572.83 577.8 573.17 581.7 573.50 583.5 573.83 585.0 574.17 587.0 574.50 582.9 574.83 582.5 575.17 583.3 575.50 582.1 575.83 581.2 576.17 580.6 576.50 582.2 576.83 582.5 577.17 582.6 577.50 584.0 577.83 582.4 578.17 584.2 578.50 581.8 578.83 581.4 579.17 584.6 579.50 583.2 579.83 583.3 580.17 585.1 580.50 584.3 580.83 583.9 581.17 583.0 581.50 585.3 581.83 584.1 582.17 584.4 582.50 584.1 582.83 586.3 583.17 586.9 583.50 586.4 583.83 585.7 584.17 582.8 584.50 583.9 584.83 583.8 585.17 587.2 585.50 587.6 585.83 587.8 586.17 589.1 586.50 589.2 586.83 586.2 587.17 588.4 587.50 587.7 587.83 587.8 588.17 588.5 588.50 590.5 588.83 593.5 589.17 590.6 589.50 593.8 589.83 591.5 590.17 591.5 590.50 592.4 590.83 591.5 591.17 593.7 591.50 595.7 591.83 593.3 592.17 594.4 592.50 594.5 592.83 592.5 593.17 592.1 593.50 592.5 593.83 593.2 594.17 594.1 594.50 598.8 594.83 601.3 595.17 603.1 595.50 606.0 595.83 604.6 595.90 607.0 596.17 604.3 596.50 601.0 596.83 597.7 597.17 597.9 597.50 596.6 597.83 593.0 598.17 592.3 598.50 593.4 598.83 591.8 599.17 593.6 599.50 593.3 599.83 593.1 600.17 591.8 600.50 592.1 600.83 594.5 601.17 594.6 601.50 595.3 601.83 591.7 602.17 593.4 602.50 591.9 602.83 592.9 603.17 592.3 603.50 596.4 603.83 597.2 604.17 594.3 604.50 594.9 604.83 591.2 605.17 592.0 605.50 588.6 605.83 591.1 606.17 593.2 606.50 592.1 606.83 591.6 607.17 593.7 607.50 593.6 607.83 589.6 608.17 587.7 608.50 587.2 608.83 590.2 609.17 591.6 609.50 592.9 609.83 594.1 610.17 594.2 610.50 593.3 610.83 591.7 611.17 589.0 611.50 590.6 611.83 591.5 612.17 591.8 612.50 593.2 612.83 594.8 613.17 592.3 613.50 595.6 613.83 591.3 614.17 593.1 614.50 592.6 614.83 591.4 615.17 593.0 615.50 595.2 615.83 594.9 616.17 596.6 616.50 594.5 616.83 593.0 617.17 593.3 617.50 592.1 617.83 590.2 618.17 590.0 618.50 593.2 618.83 593.3 619.17 593.6 619.50 591.8 619.83 591.0 620.17 591.1 620.50 589.5 620.83 592.3 621.17 591.4 621.50 590.3 621.83 594.5 622.17 591.9 622.50 592.6 622.83 593.4 623.17 593.5 623.50 593.7 623.83 593.1 624.17 595.6 624.50 594.1 624.83 598.3 625.17 595.8 625.50 596.8 625.83 597.1 626.17 593.4 626.50 593.6 626.83 595.7 627.17 595.6 627.50 597.6 627.83 597.9 628.17 598.2 628.50 594.5 628.83 594.0 629.17 594.2 629.50 591.6 629.83 595.6 630.17 596.3 630.50 596.0 630.83 599.6 631.17 597.9 631.50 597.4 631.83 598.3 632.17 596.3 632.50 597.5 632.83 596.7 633.17 596.8 633.50 599.8 633.83 601.9 634.17 601.3 634.50 599.7 634.83 601.7 635.17 599.9 635.50 599.3 635.83 600.9 636.17 599.9 636.50 601.9 636.83 602.1 637.17 602.7 637.50 600.7 637.83 600.9 638.17 601.3 638.50 600.9 638.83 601.8 639.17 603.0 639.50 605.9 639.83 605.3 640.17 605.5 640.50 605.1 640.83 605.1 641.17 601.9 641.50 602.3 641.83 601.7 642.17 602.3 642.50 603.5 642.83 602.8 643.17 603.3 643.50 602.7 643.83 599.4 644.17 600.9 644.50 598.7 644.83 599.6 645.17 599.4 645.50 602.1 645.83 601.0 646.17 603.4 646.50 600.6 646.83 600.8 647.17 599.8 647.50 597.1 647.83 597.2 648.17 599.3 648.50 599.9 648.83 599.8 649.17 598.9 649.50 598.3 649.83 600.1 650.17 597.3 650.50 596.2 650.83 598.8 651.17 600.9 651.50 599.8 651.83 604.5 652.17 604.5 652.50 603.0 652.83 601.7 653.17 601.9 653.50 600.3 653.83 604.4 654.17 605.3 654.50 609.0 654.83 610.8 655.17 613.0 655.50 611.7 655.83 611.0 656.17 613.4 656.50 612.3 656.83 613.6 657.17 617.4 657.40 617.0 657.50 618.0 657.83 617.1 658.17 614.3 658.50 614.4 658.83 611.0 659.17 608.1 659.50 608.8 659.83 607.1 660.17 606.5 660.50 608.9 660.83 607.4 661.17 607.0 661.50 605.9 661.83 606.2 662.17 604.3 662.50 603.9 662.83 602.3 663.17 604.3 663.50 606.3 663.83 606.7 664.17 605.5 664.50 606.6 664.83 606.0 665.17 607.3 665.50 604.6 665.83 605.7 666.17 604.8 666.50 605.8 666.83 605.5 667.17 606.3 667.50 605.5 667.83 605.2 668.17 602.8 668.50 600.9 668.83 605.2 669.17 606.1 669.50 608.1 669.83 607.0 670.17 609.9 670.50 606.5 670.83 608.1 671.17 607.4 671.50 606.9 671.83 607.6 672.17 610.1 672.50 610.8 672.83 611.5 673.17 612.4 673.50 609.6 673.83 611.6 674.17 609.0 674.50 607.0 674.83 610.4 675.17 611.6 675.50 612.6 675.83 611.7 676.17 612.9 676.50 611.4 676.83 608.4 677.17 608.3 677.50 606.3 677.83 607.6 678.17 608.6 678.50 608.7 678.83 609.1 679.17 608.2 679.50 607.4 679.83 606.1 680.17 606.8 680.50 608.9 680.83 608.4 681.17 609.3 681.50 612.8 681.83 612.2 682.17 613.6 682.50 610.8 682.83 609.2 683.17 608.3 683.50 606.1 683.83 608.9 684.17 609.7 684.50 609.4 684.83 609.5 685.17 613.7 685.50 610.9 685.83 611.1 686.17 611.1 686.50 610.0 686.83 612.2 687.17 609.9 687.50 610.9 687.83 611.9 688.17 610.3 688.50 610.1 688.83 611.0 689.17 608.4 689.50 604.8 689.83 606.3 690.17 606.9 690.50 608.9 690.83 612.1 691.17 611.8 691.50 614.6 691.83 614.8 692.17 617.0 692.50 616.6 692.83 621.5 693.17 620.0 693.50 621.0 693.83 620.9 694.17 619.7 694.50 616.7 694.83 615.7 695.17 614.1 695.50 610.6 695.83 610.8 696.17 610.5 696.50 611.3 696.83 613.5 697.17 612.4 697.50 613.8 697.83 611.1 698.17 610.1 698.50 608.3 698.83 609.4 699.17 610.3 699.50 613.7 699.83 614.4 700.17 614.9 700.50 614.7 700.83 613.8 701.17 612.7 701.50 609.9 701.83 611.9 702.17 613.2 702.50 613.3 702.83 617.0 703.17 616.1 703.50 615.2 703.83 613.0 704.17 611.3 704.50 611.3 704.83 612.4 705.17 612.0 705.50 612.2 705.83 616.1 706.17 612.6 706.50 614.3 706.83 614.7 707.17 612.8 707.50 613.8 707.83 611.4 708.17 615.3 708.50 614.0 708.83 615.2 709.17 614.8 709.50 614.7 709.83 612.0 710.17 612.8 710.50 611.6 710.83 613.1 711.17 613.6 711.50 610.9 711.83 613.0 712.17 611.2 712.50 613.1 712.83 611.5 713.17 612.5 713.50 610.5 713.83 610.2 714.17 613.2 714.50 613.1 714.83 614.8 715.17 614.0 715.50 613.6 715.83 612.7 716.17 612.1 716.50 610.0 716.83 612.3 717.17 611.3 717.50 613.1 717.83 614.7 718.17 614.0 718.50 615.9 718.83 614.8 719.17 615.6 719.50 616.5 719.83 615.6 720.17 618.2 720.50 617.4 720.83 620.2 721.17 618.6 721.50 617.2 721.83 615.4 722.17 617.8 722.50 615.8 722.83 618.8 723.17 616.6 723.50 620.4 723.83 619.9 724.17 619.5 724.50 619.3 724.83 618.4 725.17 616.0 725.50 613.3 725.83 616.1 726.17 617.4 726.50 616.9 726.83 614.5 727.17 614.9 727.50 612.8 727.83 612.4 728.17 610.2 728.50 607.5 728.83 609.4 729.17 611.6 729.50 614.3 729.83 614.2 730.17 615.1 730.50 613.5 730.83 612.6 731.17 611.9 731.50 611.7 731.83 611.9 732.17 612.2 732.50 614.0 732.83 615.3 733.17 617.0 733.50 614.2 733.83 615.2 734.17 615.2 734.50 614.4 734.83 613.8 735.17 614.5 735.50 618.6 735.83 618.7 736.17 618.0 736.50 617.4 736.83 616.8 737.17 615.8 737.50 616.9 737.83 617.3 738.17 618.3 738.50 620.9 738.83 618.9 739.17 620.8 739.50 622.5 739.83 619.8 740.17 618.5 740.50 616.8 740.83 618.6 741.17 617.8 741.50 619.3 741.83 617.5 742.17 618.8 742.50 618.4 742.83 618.5 743.17 618.0 743.50 616.9 743.83 616.2 744.17 618.4 744.50 617.2 744.83 619.4 745.17 621.3 745.50 619.9 745.83 621.9 746.17 620.0 746.50 617.7 746.83 621.4 747.17 623.0 747.50 625.4 747.83 627.0 748.17 627.3 748.50 627.6 748.83 624.2 749.17 625.5 749.50 622.7 749.83 622.7 750.17 620.6 750.50 624.7 750.83 621.2 751.17 623.0 751.50 621.1 751.83 621.7 752.17 620.2 752.50 622.2 752.83 622.6 753.17 623.9 753.50 621.6 753.83 626.6 754.17 625.3 754.50 625.9 754.83 622.0 755.17 622.0 755.50 621.4 755.83 619.0 756.17 621.9 756.50 621.8 756.83 623.5 757.17 624.1 757.50 623.2 757.83 619.5 758.17 620.1 758.50 620.3 758.83 618.0 759.17 621.1 759.50 618.7 759.83 619.8 760.17 620.5 760.50 621.8 760.83 619.1 761.17 616.6 761.50 617.3 761.83 621.8 762.17 625.9 762.50 628.7 762.83 629.2 763.17 629.8 763.50 627.0 763.83 628.6 764.17 626.7 764.50 626.6 764.83 629.7 765.17 630.4 765.50 632.6 765.83 631.9 766.17 632.4 766.50 632.1 766.83 630.5 767.17 630.9 767.50 632.0 767.83 632.7 768.17 631.0 768.50 631.0 768.83 631.9 769.17 630.0 769.50 627.7 769.83 628.2 770.17 625.5 770.50 623.3 770.83 621.9 771.17 623.4 771.50 625.4 771.83 625.4 772.17 626.5 772.50 625.8 772.83 625.2 773.17 624.8 773.30 624.0 773.50 619.5 773.83 613.2 774.17 613.7 774.40 610.0 774.50 610.0 774.83 618.0 775.17 622.8 775.40 626.0 775.50 626.3 775.83 626.4 776.17 625.5 776.50 627.0 776.83 627.9 777.17 629.6 777.50 630.5 777.83 633.1 778.17 632.5 778.50 633.3 778.83 632.9 779.17 631.5 779.50 630.0 779.83 629.4 780.17 629.8 780.50 630.8 780.83 628.8 781.17 628.9 781.50 627.6 781.83 623.1 782.17 624.4 782.50 623.7 782.83 623.1 783.17 625.1 783.50 625.7 783.83 629.0 784.17 626.3 784.50 626.3 784.83 625.9 785.17 625.1 785.50 624.3 785.83 627.7 786.17 629.3 786.50 633.0 786.83 634.3 787.17 635.8 787.50 633.6 787.83 633.5 788.17 633.9 788.50 632.5 788.83 634.0 789.17 633.4 789.50 633.5 789.83 630.2 790.17 631.7 790.50 628.6 790.83 627.0 791.17 626.5 791.50 626.9 791.83 628.6 792.17 628.0 792.50 630.1 792.83 633.0 793.17 634.3 793.50 632.8 793.83 628.9 794.17 627.4 794.50 626.6 794.83 629.3 795.17 632.1 795.50 629.2 795.83 631.1 796.17 632.0 796.50 629.6 796.83 627.6 797.17 627.8 797.50 629.1 797.83 626.7 798.17 626.2 798.50 624.9 798.83 626.5 799.17 627.4 799.50 624.6 799.83 621.7 800.17 619.4 800.50 618.9 800.83 622.7 801.17 624.1 801.50 626.5 801.83 628.6 802.17 632.0 802.50 629.6 802.83 629.0 803.17 627.7 803.50 630.1 803.83 632.3 804.17 632.5 804.50 634.8 804.83 633.5 805.17 631.3 805.50 633.0 805.83 627.6 806.17 628.1 806.50 625.3 806.83 624.1 807.17 626.7 807.50 627.7 807.83 629.7 808.17 628.9 808.50 628.2 808.83 628.5 809.17 626.4 809.50 626.7 809.83 629.6 810.17 628.8 810.50 631.0 810.83 632.7 811.17 632.3 811.50 630.9 811.83 631.8 812.17 627.9 812.50 626.0 812.83 627.8 813.17 627.7 813.50 627.0 813.83 628.0 814.17 628.9 814.50 627.9 814.83 626.5 815.17 627.1 815.50 625.7 815.83 627.3 816.17 626.6 816.50 624.2 816.83 625.9 817.17 625.8 817.50 625.5 817.83 626.8 818.17 626.1 818.50 626.7 818.83 627.9 819.17 628.7 819.50 631.5 819.83 632.1 820.17 633.0 820.50 631.6 820.83 630.4 821.17 628.0 821.50 630.3 821.83 627.5 822.17 629.0 822.50 631.7 822.83 635.7 823.17 635.5 823.50 634.6 823.83 633.2 824.17 633.2 824.50 632.1 824.83 635.0 825.17 634.0 825.50 635.6 825.83 636.0 826.17 633.3 826.50 631.9 826.83 634.9 827.17 631.2 827.50 629.8 827.83 629.3 828.17 632.5 828.50 629.7 828.83 633.1 829.17 634.1 829.50 631.8 829.83 629.3 830.17 630.0 830.50 625.5 830.83 630.0 831.17 628.6 831.50 631.0 831.83 629.8 832.17 631.4 832.50 631.9 832.83 630.4 833.17 628.0 833.50 627.1 833.83 629.9 834.17 632.5 834.50 632.6 834.83 632.2 835.17 631.3 835.50 629.8 835.83 631.5 836.17 631.2 836.50 628.6 836.83 632.8 837.17 634.2 837.50 634.1 837.83 635.8 838.17 634.7 838.50 632.1 838.83 630.9 839.17 631.0 839.50 630.7 839.83 633.6 840.17 632.6 840.50 633.2 840.83 632.4 841.17 634.0 841.50 631.8 841.83 632.8 842.17 633.1 842.50 631.3 842.83 629.4 843.17 632.4 843.50 632.8 843.83 631.8 844.17 632.3 844.50 632.5 844.83 632.6 845.17 631.7 845.50 629.8 845.83 629.2 846.17 631.8 846.50 636.1 846.83 636.3 847.17 635.6 847.50 634.2 847.83 633.7 848.17 631.6 848.50 628.2 848.83 630.4 849.17 633.6 849.50 633.7 849.83 633.4 850.17 636.3 850.50 634.5 850.83 629.6 851.17 629.7 851.50 627.3 851.83 627.5 852.17 629.9 852.30 631.0 852.50 628.9 852.83 626.6 853.17 623.2 853.40 619.5 853.50 620.5 853.83 623.8 854.17 631.0 854.50 636.2 854.60 638.0 854.83 637.8 855.17 637.9 855.50 642.3 855.83 643.0 856.17 642.6 856.50 640.6 856.83 638.5 857.17 637.0 857.50 635.3 857.83 637.9 858.17 638.8 858.50 640.8 858.83 640.4 859.17 641.1 859.50 640.2 859.83 639.5 860.17 636.3 860.50 635.8 860.83 634.4 861.17 636.5 861.50 637.9 861.83 638.1 862.17 638.1 862.50 637.8 862.83 637.8 863.17 635.3 863.50 632.2 863.83 633.5 864.17 633.8 864.50 635.2 864.83 634.9 865.17 636.4 865.50 638.1 865.83 634.7 866.17 634.7 866.50 635.9 866.83 637.2 867.17 636.6 867.50 638.7 867.83 635.2 868.17 636.3 868.50 634.5 868.83 633.4 869.17 629.6 869.50 632.6 869.83 631.6 870.17 634.0 870.50 637.1 870.83 639.6 871.17 640.8 871.50 639.0 871.83 641.8 872.17 638.3 872.50 638.9 872.83 639.9 873.17 641.5 873.50 640.2 873.83 642.8 874.17 639.8 874.50 641.2 874.83 638.2 875.17 635.3 875.50 634.5 875.83 635.6 876.17 636.4 876.50 638.3 876.83 641.6 877.17 641.5 877.50 643.1 877.83 640.2 878.17 637.1 878.50 639.4 878.83 639.6 879.17 642.9 879.50 644.0 879.83 643.6 880.17 642.2 880.50 641.0 880.83 640.6 881.17 639.7 881.50 639.2 881.83 637.8 882.17 639.1 882.50 639.7 882.83 639.8 883.17 636.4 883.50 636.1 883.83 635.9 884.17 634.7 884.50 632.5 884.83 633.7 885.17 631.7 885.50 629.7 885.83 630.2 886.17 629.6 886.50 627.4 886.83 631.1 887.17 630.3 887.50 631.4 887.83 637.4 888.17 639.4 888.50 642.4 888.83 641.8 889.17 640.6 889.50 642.4 889.83 638.5 890.17 636.3 890.50 635.6 890.83 636.0 891.17 635.8 891.50 636.5 891.83 636.0 892.17 638.2 892.50 637.2 892.83 636.8 893.17 638.6 893.50 638.5 893.83 639.3 894.17 641.5 894.50 641.0 894.83 640.7 895.17 641.7 895.50 643.6 895.83 641.7 896.17 641.9 896.50 640.6 896.83 644.7 897.17 642.2 897.50 643.6 897.83 643.6 898.17 641.4 898.50 643.2 898.83 640.6 899.17 643.4 899.50 641.4 899.83 641.6 900.17 639.3 900.50 640.6 900.83 639.5 901.17 640.1 901.50 637.0 901.83 638.7 902.17 638.5 902.50 635.1 902.83 635.5 903.17 637.5 903.50 636.9 903.83 638.6 904.17 638.5 904.50 640.8 904.83 641.9 905.17 640.3 905.50 640.3 905.83 636.0 906.17 636.0 906.50 634.9 906.83 634.6 907.17 637.2 907.50 637.9 907.83 638.0 908.17 641.5 908.50 638.7 908.83 641.9 909.17 646.2 909.50 645.0 909.83 643.1 910.17 644.5 910.50 637.6 910.83 637.2 911.17 637.3 911.50 633.3 911.83 630.4 912.17 632.1 912.50 632.9 912.83 633.8 913.17 632.6 913.50 629.3 913.83 624.7 914.17 624.6 914.20 624.0 914.50 624.3 914.83 629.8 915.17 628.1 915.50 633.0 915.83 637.0 916.17 640.3 916.50 637.5 916.83 640.1 917.17 636.0 917.50 637.4 917.83 636.9 918.17 637.4 918.50 639.2 918.83 637.1 919.17 637.1 919.50 637.5 919.83 638.6 920.17 634.6 920.50 635.3 920.83 634.5 921.17 638.4 921.50 640.0 921.83 639.3 922.17 637.5 922.50 639.8 922.83 638.7 923.17 640.2 923.50 640.2 923.83 639.9 924.17 642.3 924.50 646.0 924.83 645.3 925.17 647.3 925.50 643.7 925.83 639.9 926.17 642.5 926.50 636.8 926.83 639.4 927.17 640.0 927.50 641.5 927.83 643.4 928.17 644.5 928.50 643.9 928.83 641.8 929.17 641.1 929.50 637.8 929.83 640.0 930.17 641.1 930.50 638.7 930.83 640.0 931.17 642.2 931.50 638.2 931.83 640.2 932.17 638.7 932.50 638.6 932.83 642.2 933.17 645.2 933.50 646.6 933.83 645.5 934.17 648.8 934.50 643.2 934.83 644.9 935.17 644.3 935.50 639.7 935.83 642.5 936.17 643.4 936.50 642.4 936.83 645.1 937.17 643.3 937.50 641.0 937.83 641.8 938.17 637.8 938.50 635.9 938.83 634.4 939.17 634.9 939.50 634.2 939.83 635.0 940.17 642.4 940.50 646.7 940.83 650.1 941.17 651.6 941.20 655.0 941.50 650.5 941.83 650.1 942.17 650.4 942.50 650.4 942.83 652.6 943.17 650.3 943.50 649.2 943.83 648.3 944.17 643.7 944.50 646.2 944.83 643.9 945.17 645.9 945.50 647.5 945.83 646.9 946.17 648.1 946.50 647.5 946.83 646.3 947.17 646.4 947.50 646.3 947.83 643.4 948.17 645.8 948.50 646.5 948.83 647.1 949.17 648.7 949.50 644.7 949.83 642.8 950.17 642.2 950.50 638.9 950.83 639.3 951.17 641.2 951.50 638.4 951.83 642.0 952.17 637.7 952.50 640.1 952.83 642.6 953.17 644.5 953.50 645.9 953.83 649.3 954.17 650.0 954.50 650.3 954.83 648.9 955.17 651.4 955.50 649.2 955.83 648.9 956.17 643.9 956.50 643.7 956.83 644.4 957.17 646.2 957.50 643.4 957.83 649.1 958.17 649.2 958.50 651.1 958.83 651.6 959.17 641.7 959.50 634.1 959.83 630.0 960.17 624.2 960.50 617.4 960.83 610.5 961.10 601.0 961.17 608.1 961.50 615.2 961.83 626.5 962.17 634.8 962.50 647.9 962.83 647.5 963.17 646.8 963.50 646.0 963.83 643.5 964.17 643.3 964.50 637.5 964.83 635.6 965.17 634.7 965.50 630.9 965.83 633.2 966.17 632.6 966.50 636.2 966.83 637.1 967.17 636.3 967.50 638.7 967.83 636.6 968.17 635.4 968.50 636.5 968.83 640.3 969.17 643.0 969.50 644.0 969.83 645.3 970.17 646.7 970.50 644.5 970.83 641.4 971.17 644.1 971.50 639.5 971.83 642.5 972.17 645.7 972.50 646.7 972.83 645.0 973.17 647.5 973.50 642.3 973.83 640.4 974.17 641.4 974.50 639.8 974.83 640.2 975.17 640.6 975.50 642.3 975.83 646.1 976.17 645.1 976.50 646.0 976.83 646.8 977.17 644.3 977.50 646.2 977.83 648.9 978.17 649.4 978.50 649.9 978.83 649.4 979.17 649.0 979.50 644.9 979.83 643.6 980.17 644.8 980.50 642.5 980.83 639.4 981.17 640.1 981.50 640.8 981.83 643.7 982.17 644.1 982.50 644.7 982.83 643.3 983.17 641.8 983.50 642.0 983.83 645.8 984.17 646.9 984.50 647.5 984.83 646.0 985.17 649.4 985.50 648.1 985.83 648.5 986.17 648.3 986.50 646.9 986.83 649.5 987.17 650.3 987.50 653.1 987.83 654.2 988.17 656.4 988.50 652.9 988.83 652.5 989.17 652.3 989.50 647.8 989.83 648.4 990.17 651.4 990.50 652.1 990.83 652.3 991.17 651.2 991.50 647.8 991.83 649.9 992.17 645.7 992.50 646.8 992.83 647.3 993.17 645.9 993.50 649.0 993.83 650.2 994.17 649.8 994.50 649.0 994.83 643.8 995.17 644.7 995.50 642.4 995.83 642.7 996.17 645.2 996.50 642.4 996.83 647.8 997.17 642.5 997.50 642.9 997.83 641.7 998.17 640.0 998.50 635.7 998.83 639.7 999.17 635.6 999.50 638.3 999.83 640.9 1000.17 646.0 1000.50 651.1 1000.83 652.1 1001.17 654.1 1001.50 642.7 1001.83 630.5 1002.17 615.9 1002.50 606.2 1002.83 601.1 1003.17 599.9" stroke="#000" stroke-width="2.3" fill="none" stroke-linejoin="miter" stroke-miterlimit="2"/></g><rect x="119.0" y="113.0" width="896.0" height="583.5" fill="none" stroke="#000" stroke-width="2.4"/><path d="M135.0 696.5V690.5M135.0 113.0V119.0M151.0 696.5V690.5M151.0 113.0V119.0M167.0 696.5V684.5M167.0 113.0V125.0M183.0 696.5V690.5M183.0 113.0V119.0M199.0 696.5V690.5M199.0 113.0V119.0M215.0 696.5V690.5M215.0 113.0V119.0M231.0 696.5V690.5M231.0 113.0V119.0M247.0 696.5V690.5M247.0 113.0V119.0M263.0 696.5V690.5M263.0 113.0V119.0M279.0 696.5V690.5M279.0 113.0V119.0M295.0 696.5V690.5M295.0 113.0V119.0M311.0 696.5V690.5M311.0 113.0V119.0M327.0 696.5V684.5M327.0 113.0V125.0M343.0 696.5V690.5M343.0 113.0V119.0M359.0 696.5V690.5M359.0 113.0V119.0M375.0 696.5V690.5M375.0 113.0V119.0M391.0 696.5V690.5M391.0 113.0V119.0M407.0 696.5V690.5M407.0 113.0V119.0M423.0 696.5V690.5M423.0 113.0V119.0M439.0 696.5V690.5M439.0 113.0V119.0M455.0 696.5V690.5M455.0 113.0V119.0M471.0 696.5V690.5M471.0 113.0V119.0M487.0 696.5V684.5M487.0 113.0V125.0M503.0 696.5V690.5M503.0 113.0V119.0M519.0 696.5V690.5M519.0 113.0V119.0M535.0 696.5V690.5M535.0 113.0V119.0M551.0 696.5V690.5M551.0 113.0V119.0M567.0 696.5V690.5M567.0 113.0V119.0M583.0 696.5V690.5M583.0 113.0V119.0M599.0 696.5V690.5M599.0 113.0V119.0M615.0 696.5V690.5M615.0 113.0V119.0M631.0 696.5V690.5M631.0 113.0V119.0M647.0 696.5V684.5M647.0 113.0V125.0M663.0 696.5V690.5M663.0 113.0V119.0M679.0 696.5V690.5M679.0 113.0V119.0M695.0 696.5V690.5M695.0 113.0V119.0M711.0 696.5V690.5M711.0 113.0V119.0M727.0 696.5V690.5M727.0 113.0V119.0M743.0 696.5V690.5M743.0 113.0V119.0M759.0 696.5V690.5M759.0 113.0V119.0M775.0 696.5V690.5M775.0 113.0V119.0M791.0 696.5V690.5M791.0 113.0V119.0M807.0 696.5V684.5M807.0 113.0V125.0M823.0 696.5V690.5M823.0 113.0V119.0M839.0 696.5V690.5M839.0 113.0V119.0M855.0 696.5V690.5M855.0 113.0V119.0M871.0 696.5V690.5M871.0 113.0V119.0M887.0 696.5V690.5M887.0 113.0V119.0M903.0 696.5V690.5M903.0 113.0V119.0M919.0 696.5V690.5M919.0 113.0V119.0M935.0 696.5V690.5M935.0 113.0V119.0M951.0 696.5V690.5M951.0 113.0V119.0M967.0 696.5V684.5M967.0 113.0V125.0M983.0 696.5V690.5M983.0 113.0V119.0M999.0 696.5V690.5M999.0 113.0V119.0M119.0 685.3H127.5M1015.0 685.3H1006.5M119.0 673.7H136.5M1015.0 673.7H997.5M119.0 662.1H127.5M1015.0 662.1H1006.5M119.0 650.5H127.5M1015.0 650.5H1006.5M119.0 638.8H127.5M1015.0 638.8H1006.5M119.0 627.2H127.5M1015.0 627.2H1006.5M119.0 615.6H127.5M1015.0 615.6H1006.5M119.0 604.0H127.5M1015.0 604.0H1006.5M119.0 592.4H127.5M1015.0 592.4H1006.5M119.0 580.8H127.5M1015.0 580.8H1006.5M119.0 569.1H127.5M1015.0 569.1H1006.5M119.0 557.5H136.5M1015.0 557.5H997.5M119.0 545.9H127.5M1015.0 545.9H1006.5M119.0 534.3H127.5M1015.0 534.3H1006.5M119.0 522.7H127.5M1015.0 522.7H1006.5M119.0 511.1H127.5M1015.0 511.1H1006.5M119.0 499.4H127.5M1015.0 499.4H1006.5M119.0 487.8H127.5M1015.0 487.8H1006.5M119.0 476.2H127.5M1015.0 476.2H1006.5M119.0 464.6H127.5M1015.0 464.6H1006.5M119.0 453.0H127.5M1015.0 453.0H1006.5M119.0 441.4H136.5M1015.0 441.4H997.5M119.0 429.7H127.5M1015.0 429.7H1006.5M119.0 418.1H127.5M1015.0 418.1H1006.5M119.0 406.5H127.5M1015.0 406.5H1006.5M119.0 394.9H127.5M1015.0 394.9H1006.5M119.0 383.3H127.5M1015.0 383.3H1006.5M119.0 371.7H127.5M1015.0 371.7H1006.5M119.0 360.0H127.5M1015.0 360.0H1006.5M119.0 348.4H127.5M1015.0 348.4H1006.5M119.0 336.8H127.5M1015.0 336.8H1006.5M119.0 325.2H136.5M1015.0 325.2H997.5M119.0 313.6H127.5M1015.0 313.6H1006.5M119.0 302.0H127.5M1015.0 302.0H1006.5M119.0 290.3H127.5M1015.0 290.3H1006.5M119.0 278.7H127.5M1015.0 278.7H1006.5M119.0 267.1H127.5M1015.0 267.1H1006.5M119.0 255.5H127.5M1015.0 255.5H1006.5M119.0 243.9H127.5M1015.0 243.9H1006.5M119.0 232.3H127.5M1015.0 232.3H1006.5M119.0 220.6H127.5M1015.0 220.6H1006.5M119.0 209.0H136.5M1015.0 209.0H997.5M119.0 197.4H127.5M1015.0 197.4H1006.5M119.0 185.8H127.5M1015.0 185.8H1006.5M119.0 174.2H127.5M1015.0 174.2H1006.5M119.0 162.6H127.5M1015.0 162.6H1006.5M119.0 150.9H127.5M1015.0 150.9H1006.5M119.0 139.3H127.5M1015.0 139.3H1006.5M119.0 127.7H127.5M1015.0 127.7H1006.5M119.0 116.1H127.5M1015.0 116.1H1006.5" stroke="#000" stroke-width="2" fill="none"/><g font-family="Liberation Serif" fill="#000" stroke="#fff" stroke-width="0.2"><text x="130.7" y="737.0" font-size="30.0" text-anchor="start" textLength="69.9" lengthAdjust="spacingAndGlyphs" >4000</text><text x="289.5" y="737.0" font-size="30.0" text-anchor="start" textLength="71.2" lengthAdjust="spacingAndGlyphs" >5000</text><text x="450.7" y="737.0" font-size="30.0" text-anchor="start" textLength="69.9" lengthAdjust="spacingAndGlyphs" >6000</text><text x="609.5" y="737.0" font-size="30.0" text-anchor="start" textLength="71.2" lengthAdjust="spacingAndGlyphs" >7000</text><text x="770.7" y="737.0" font-size="30.0" text-anchor="start" textLength="69.9" lengthAdjust="spacingAndGlyphs" >8000</text><text x="930.7" y="737.0" font-size="30.0" text-anchor="start" textLength="69.9" lengthAdjust="spacingAndGlyphs" >9000</text><text x="92.5" y="685.1" font-size="30.0" text-anchor="start" textLength="17.1" lengthAdjust="spacingAndGlyphs" >0</text><text x="75.3" y="568.9" font-size="30.0" text-anchor="start" textLength="34.3" lengthAdjust="spacingAndGlyphs" >10</text><text x="77.6" y="452.7" font-size="30.0" text-anchor="start" textLength="31.8" lengthAdjust="spacingAndGlyphs" >20</text><text x="77.6" y="336.5" font-size="30.0" text-anchor="start" textLength="31.8" lengthAdjust="spacingAndGlyphs" >30</text><text x="73.5" y="220.4" font-size="30.0" text-anchor="start" textLength="36.1" lengthAdjust="spacingAndGlyphs" >40</text><text transform="translate(389.70 770.40) scale(1.100 1)" x="-0.00" y="0" font-size="29" textLength="323.45" lengthAdjust="spacing" >Wavelength (Angstroms)</text></g><g transform="translate(52 595.6) rotate(-90)" font-family="Liberation Serif" fill="#000" stroke="#fff" stroke-width="0.2"><text x="0.90" y="0.00" font-size="29" textLength="14.59" lengthAdjust="spacingAndGlyphs" font-style="italic">f</text><text x="18.60" y="6.80" font-size="15" textLength="16.64" lengthAdjust="spacingAndGlyphs" >&#955;</text><text x="41.59" y="0.00" font-size="29" textLength="11.73" lengthAdjust="spacingAndGlyphs" >(</text><text x="54.08" y="0.00" font-size="29" textLength="33.99" lengthAdjust="spacingAndGlyphs" >10</text><text x="91.15" y="-13.10" font-size="19" textLength="28.13" lengthAdjust="spacingAndGlyphs" >&#8722;17</text><text transform="translate(129.80 0.00) scale(1.300 1)" x="-1.00" y="0" font-size="29" textLength="114.64" lengthAdjust="spacing" >erg/s/cm</text><text x="274.86" y="-12.20" font-size="19" textLength="17.46" lengthAdjust="spacingAndGlyphs" >2</text><text x="294.60" y="0.00" font-size="29" textLength="81.41" lengthAdjust="spacingAndGlyphs" >/Ang)</text></g><g clip-path="url(#c)"><rect x="122.0" y="226.0" width="2.0" height="33.0" fill="#0000ff"/><rect x="145.0" y="149.0" width="2.0" height="33.0" fill="#0000ff"/><rect x="183.0" y="204.0" width="2.0" height="33.0" fill="#0000ff"/><rect x="220.9" y="189.0" width="1.2" height="31.5" fill="#0000ff"/><rect x="224.0" y="226.0" width="2.0" height="32.0" fill="#0000ff"/><rect x="304.0" y="348.0" width="2.0" height="32.0" fill="#0000ff"/><rect x="319.9" y="377.0" width="1.2" height="31.5" fill="#0000ff"/><rect x="327.6" y="402.0" width="1.5" height="32.5" fill="#0000ff"/><rect x="466.0" y="489.0" width="2.0" height="32.0" fill="#0000ff"/><rect x="534.7" y="522.0" width="1.2" height="31.5" fill="#0000ff"/><rect x="574.0" y="552.0" width="2.0" height="32.0" fill="#0000ff"/><rect x="576.9" y="536.0" width="1.2" height="32.0" fill="#0000ff"/><rect x="579.9" y="554.0" width="1.2" height="32.0" fill="#0000ff"/><rect x="601.0" y="553.0" width="2.0" height="32.0" fill="#0000ff"/><rect x="603.6" y="553.0" width="1.5" height="32.0" fill="#0000ff"/><rect x="668.0" y="567.0" width="2.0" height="32.0" fill="#0000ff"/><rect x="156.0" y="417.0" width="2.0" height="33.0" fill="#ff0000"/><rect x="160.7" y="417.0" width="1.2" height="33.0" fill="#ff0000"/><rect x="213.8" y="427.0" width="2.0" height="32.0" fill="#ff0000"/><rect x="354.0" y="498.0" width="2.0" height="32.0" fill="#ff0000"/><rect x="469.0" y="587.0" width="2.0" height="33.0" fill="#ff0000"/><rect x="886.0" y="654.0" width="2.0" height="32.0" fill="#ff0000"/><rect x="893.0" y="654.0" width="2.0" height="33.0" fill="#ff0000"/><rect x="912.0" y="654.0" width="2.0" height="33.0" fill="#ff0000"/><g font-family="Liberation Serif" fill="#000" stroke="#000" stroke-width="0.55"><text x="111.90" y="220.40" font-size="17" textLength="21.05" lengthAdjust="spacingAndGlyphs" >OII</text><text x="127.40" y="144.10" font-size="17" textLength="36.12" lengthAdjust="spacingAndGlyphs" >NeIII</text><text x="173.00" y="199.00" font-size="17" textLength="19.71" lengthAdjust="spacingAndGlyphs" >H<tspan font-style="italic">&#948;</tspan></text><text x="207.80" y="184.30" font-size="17" textLength="19.84" lengthAdjust="spacingAndGlyphs" >H<tspan font-style="italic">&#947;</tspan></text><text x="224.00" y="220.40" font-size="17" textLength="26.44" lengthAdjust="spacingAndGlyphs" >OIII</text><text x="288.00" y="343.00" font-size="17" textLength="20.75" lengthAdjust="spacingAndGlyphs" >H<tspan font-style="italic">&#946;</tspan></text><text x="317.80" y="397.00" font-size="17" textLength="26.14" lengthAdjust="spacingAndGlyphs" >OIII</text><text x="453.90" y="483.90" font-size="17" textLength="26.71" lengthAdjust="spacingAndGlyphs" >HeI</text><text x="527.40" y="516.50" font-size="17" textLength="15.56" lengthAdjust="spacingAndGlyphs" >OI</text><text x="544.90" y="547.00" font-size="17" textLength="20.85" lengthAdjust="spacingAndGlyphs" >NII</text><text x="565.70" y="531.00" font-size="17" textLength="21.51" lengthAdjust="spacingAndGlyphs" >H<tspan font-style="italic">&#945;</tspan></text><text x="588.00" y="549.00" font-size="17" textLength="20.07" lengthAdjust="spacingAndGlyphs" >NII</text><text x="595.52" y="548.80" font-size="17" textLength="18.29" lengthAdjust="spacingAndGlyphs" >SII</text><text x="651.50" y="562.20" font-size="17" textLength="33.53" lengthAdjust="spacingAndGlyphs" >ArIII</text><text x="146.70" y="466.30" font-size="17" textLength="9.83" lengthAdjust="spacingAndGlyphs" >K</text><text x="159.80" y="466.30" font-size="17" textLength="11.56" lengthAdjust="spacingAndGlyphs" >H</text><text x="209.00" y="475.50" font-size="17" textLength="11.05" lengthAdjust="spacingAndGlyphs" >G</text><text x="343.90" y="545.70" font-size="17" textLength="20.77" lengthAdjust="spacingAndGlyphs" >Mg</text><text x="449.80" y="636.00" font-size="17" textLength="20.22" lengthAdjust="spacingAndGlyphs" >Na</text><text x="478.90" y="636.00" font-size="17" textLength="10.54" lengthAdjust="spacingAndGlyphs" >D</text><text x="870.00" y="702.20" font-size="17" textLength="34.15" lengthAdjust="spacingAndGlyphs" >CaII</text></g></g></svg></body></html>
